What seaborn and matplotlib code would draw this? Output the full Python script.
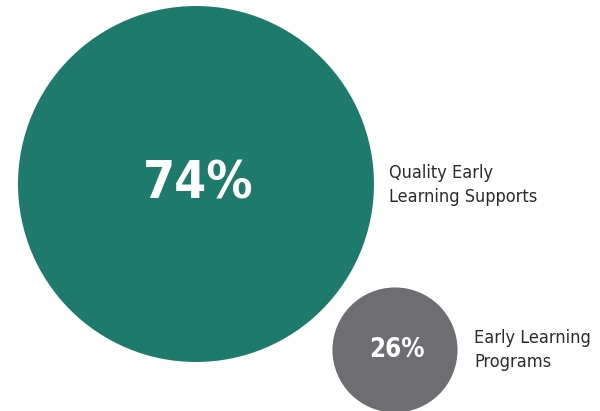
import matplotlib
matplotlib.use("Agg")
import matplotlib.pyplot as plt
from matplotlib.patches import Circle
import seaborn as sns

categories = ["Quality Early\nLearning Supports", "Early Learning\nPrograms"]
values = [74, 26]
value_labels = ["74%", "26%"]
colors = ["#1f7a6e", "#6e6d72"]

sns.set_theme(style="white")
plt.rcParams['font.family'] = ['DejaVu Sans']

fig = plt.figure(figsize=(6.0, 4.11), dpi=100)
ax = fig.add_axes([0, 0, 1, 1])
ax.set_xlim(0, 600)
ax.set_ylim(411, 0)
ax.set_aspect("equal")
ax.axis("off")

scale = 178 / 74  # radius proportional to value
centers = [(196, 184), (395, 350)]
label_pos = [(389, 185), (474, 350)]
val_size = [37, 18.5]

for v, lab, vl, c, (cx, cy), (lx, ly), fs in zip(values, categories, value_labels, colors, centers, label_pos, val_size):
    ax.add_patch(Circle((cx, cy), v * scale, facecolor=c, edgecolor="none"))
    ax.text(cx + 2, cy, vl, color="white", fontsize=fs, fontweight="bold",
            fontstretch="condensed", ha="center", va="center")
    ax.text(lx, ly, lab, color="#2b2b2b", fontsize=13, ha="left", va="center",
            fontstretch="condensed", linespacing=1.4)

fig.savefig("out.png", dpi=100, facecolor="white")
